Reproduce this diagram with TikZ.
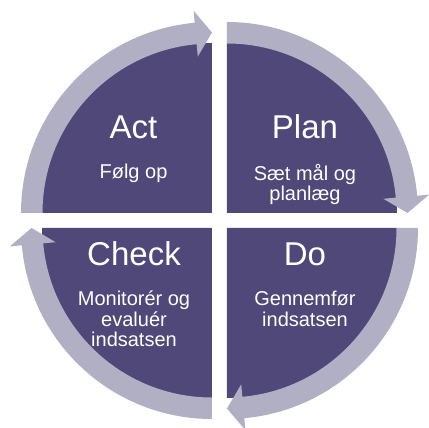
\documentclass[tikz,border=0pt]{standalone}
\usepackage{fontspec}
\setmainfont{Liberation Sans}
\usetikzlibrary{positioning}
\definecolor{pdcapurple}{HTML}{4F4879}
\definecolor{pdcagrey}{HTML}{B1AFC4}
\tikzset{
  every node/.style={text=white, inner sep=0pt},
  quarter/.style={fill=pdcapurple, draw=none},
  band/.style={fill=pdcagrey, draw=none},
  phase/.style={font=\fontsize{33}{33}\selectfont, anchor=base},
  task/.style={font=\fontsize{20}{20.5}\selectfont, align=center}
}
\begin{document}
\begin{tikzpicture}[x=1pt, y=1pt, node distance=25.5pt]
  \useasboundingbox (-219.5,-207.5) rectangle (209.5,220.5);
  % Quadrants
  \fill[quarter, shift={(-7.5,7.5)}] (0,0) -- (180:170) arc[start angle=180, end angle=90, radius=170] -- cycle;
  \fill[quarter, shift={(7.5,7.5)}] (0,0) -- (90:170) arc[start angle=90, end angle=0, radius=170] -- cycle;
  \fill[quarter, shift={(7.5,-7.5)}] (0,0) -- (0:170) arc[start angle=0, end angle=-90, radius=170] -- cycle;
  \fill[quarter, shift={(-7.5,-7.5)}] (0,0) -- (-90:170) arc[start angle=-90, end angle=-180, radius=170] -- cycle;

  % Arrows round the circle
  \fill[band, shift={(-7.5,7.5)}] (180:169.5) -- (180:191) arc[start angle=180, end angle=95.2, radius=191]
    -- (95.2:203) -- (90:180.5) -- (95.2:157) -- (95.2:169.5) arc[start angle=95.2, end angle=180, radius=169.5] -- cycle;
  \fill[band, shift={(7.5,7.5)}] (90:169.5) -- (90:191) arc[start angle=90, end angle=5.2, radius=191]
    -- (5.2:203) -- (0:180.5) -- (5.2:157) -- (5.2:169.5) arc[start angle=5.2, end angle=90, radius=169.5] -- cycle;
  \fill[band, shift={(7.5,-7.5)}] (0:169.5) -- (0:191) arc[start angle=0, end angle=-84.8, radius=191]
    -- (-84.8:203) -- (-90:180.5) -- (-84.8:157) -- (-84.8:169.5) arc[start angle=-84.8, end angle=0, radius=169.5] -- cycle;
  \fill[band, shift={(-7.5,-7.5)}] (-90:169.5) -- (-90:191) arc[start angle=-90, end angle=-174.8, radius=191]
    -- (-174.8:203) -- (-180:180.5) -- (-174.8:157) -- (-174.8:169.5) arc[start angle=-174.8, end angle=-90, radius=169.5] -- cycle;

  % Nodes
  \node (act) [phase] at (-86,82) {Act};
  \node (plan) [phase] at (85.5,82) {Plan};
  \node (check) [phase] at (-85.5,-45) {Check};
  \node (do) [phase] at (85.5,-45) {Do};
  \node (actsub) [task, below=of act.base] {Følg op};
  \node (plansub) [task, below=of plan.base] {Sæt mål og\\planlæg};
  \node (checksub) [task, below=of check.base] {Monitorér og\\evaluér\\indsatsen};
  \node (dosub) [task, below=of do.base] {Gennemfør\\indsatsen};
\end{tikzpicture}
\end{document}
